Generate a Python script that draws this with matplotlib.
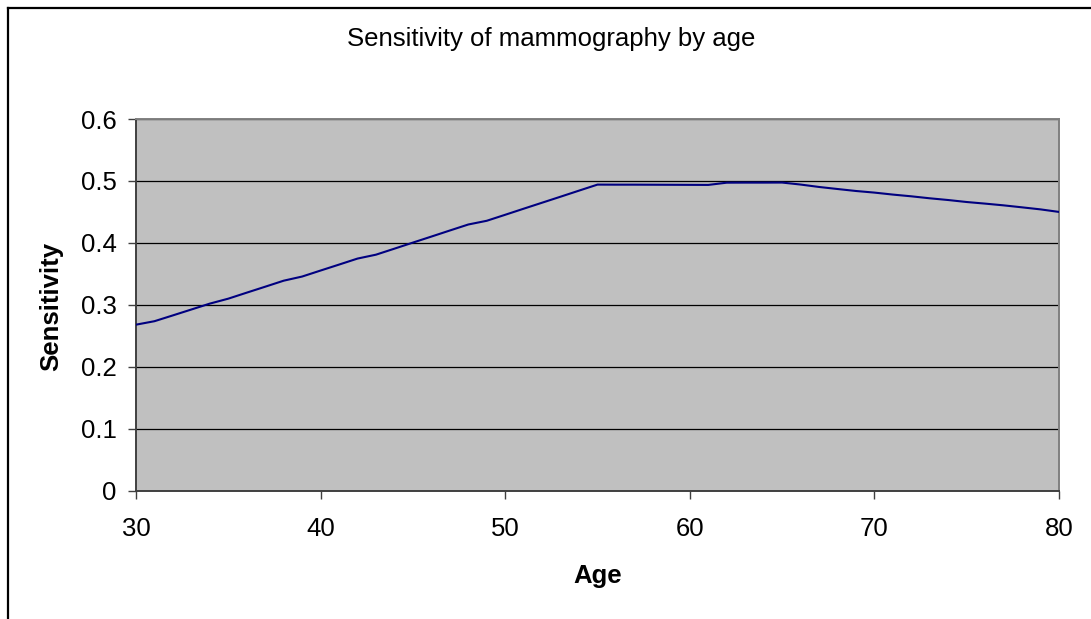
import matplotlib
matplotlib.use("Agg")
import matplotlib.pyplot as plt
from matplotlib.lines import Line2D

# sensitivity, one value per year of age
age = list(range(30, 81))
sensitivity = [0.268, 0.2736, 0.283, 0.2925, 0.302, 0.310, 0.3197, 0.3293, 0.339, 0.3457,
               0.3554, 0.365, 0.3747, 0.381, 0.3907, 0.4005, 0.4102, 0.420, 0.4297, 0.4357,
               0.4454, 0.4552, 0.4649, 0.4746, 0.4844, 0.4941, 0.4940, 0.4940, 0.4939, 0.4938,
               0.4937, 0.4936, 0.4972, 0.4973, 0.4973, 0.4974, 0.4942, 0.4903, 0.487, 0.4838,
               0.4812, 0.478, 0.4752, 0.472, 0.4692, 0.466, 0.4634, 0.4606, 0.4574, 0.4541,
               0.4500]
xticks = [30, 40, 50, 60, 70, 80]
yticks = [0, 0.1, 0.2, 0.3, 0.4, 0.5, 0.6]
ytick_labels = ["0", "0.1", "0.2", "0.3", "0.4", "0.5", "0.6"]

W, H = 1091, 619
plt.rcParams['font.family'] = ['Liberation Sans', 'DejaVu Sans']
fig = plt.figure(figsize=(W / 100, H / 100), dpi=100)
fig.patch.set_facecolor('white')

ax = fig.add_axes([136 / W, 1 - 490.7 / H, (1059 - 136) / W, (490.7 - 119) / H])
ax.set_facecolor('#C0C0C0')
ax.plot(age, sensitivity, color='#000080', linewidth=1.5, zorder=3)

ax.set_xlim(30, 80)
ax.set_ylim(0, 0.6)
ax.set_xticks(xticks)
ax.set_yticks(yticks)
ax.set_yticklabels(ytick_labels)
ax.tick_params(axis='both', direction='out', length=6, width=1, color='#404040',
               labelsize=18.5, labelcolor='black')
ax.tick_params(axis='y', pad=8)
ax.tick_params(axis='x', pad=13)
ax.yaxis.grid(True, color='black', linewidth=0.9)
ax.set_axisbelow(True)

for side in ['top', 'right']:
    ax.spines[side].set_color('#808080')
    ax.spines[side].set_linewidth(1.4)
for side in ['left', 'bottom']:
    ax.spines[side].set_color('#404040')
    ax.spines[side].set_linewidth(1.4)

fig.text(551.5 / W, 1 - 39 / H, "Sensitivity of mammography by age",
         ha='center', va='center', fontsize=18.5)
fig.text(598 / W, 1 - 576.5 / H, "Age", ha='center', va='center',
         fontsize=18.5, fontweight='bold')
fig.text(51 / W, 1 - 306 / H, "Sensitivity", ha='center', va='center',
         fontsize=18.5, fontweight='bold', rotation=90)

# outer chart frame, only left and top edges fall inside the picture
fig.add_artist(Line2D([7.5 / W, 1.0], [1 - 7.5 / H, 1 - 7.5 / H], color='black', linewidth=1.6))
fig.add_artist(Line2D([7.5 / W, 7.5 / W], [0.0, 1 - 7.5 / H], color='black', linewidth=1.6))

fig.savefig("out.png", dpi=100)
